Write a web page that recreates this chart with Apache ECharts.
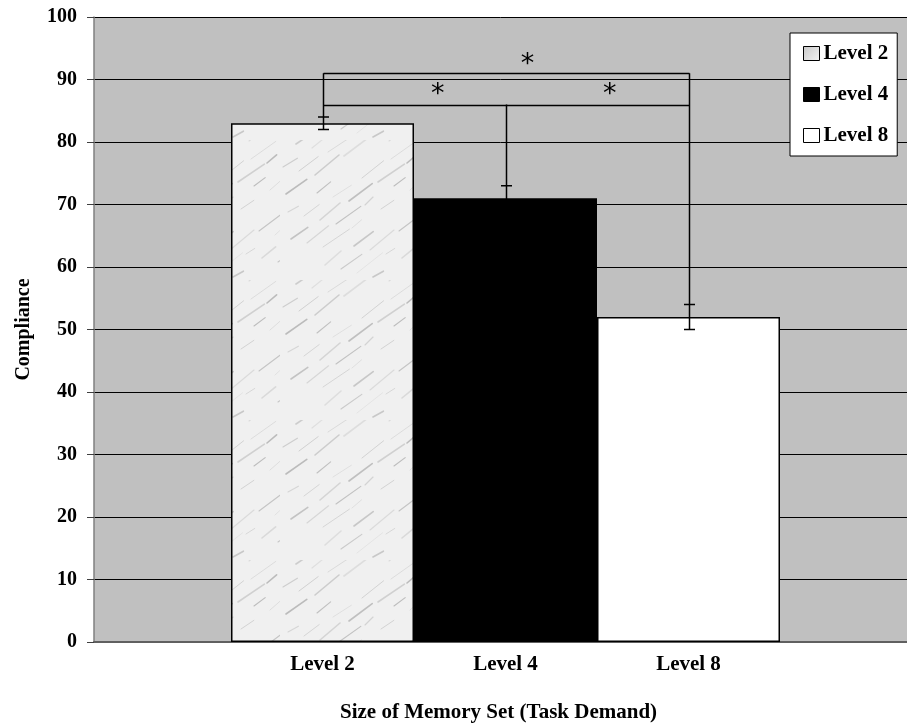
<!DOCTYPE html>
<html>
<head>
<meta charset="utf-8">
<style>html,body{margin:0;padding:0;background:#fff;}#chart{width:907px;height:726px;}</style>
<script src="https://cdn.jsdelivr.net/npm/echarts@6/dist/echarts.min.js"></script>
</head>
<body>
<div id="chart"></div>
<script>
// ---- data ----
const categories = ['Level 2', 'Level 4', 'Level 8'];
const means = [83, 71, 52];
const errors = [1, 2, 2];
// top of each vertical line above the error bar (leg of significance bracket)
const legTops = [91, 86, 91];
// significance brackets: [fromIndex, toIndex, level]
const brackets = [[0, 2, 91], [0, 2, 86]];
// asterisks: [category position, value]
const stars = [[0.63, 88.3], [1.57, 88.3], [1.12, 93.1]];
const yTicks = { min: 0, max: 100, interval: 10 };

const FONT = '"Liberation Serif", "Times New Roman", serif';

// marble-like texture for Level 2
function marble() {
  const c = document.createElement('canvas');
  c.width = 140; c.height = 140;
  const g = c.getContext('2d');
  g.fillStyle = '#f0f0f0';
  g.fillRect(0, 0, 140, 140);
  g.lineCap = 'round';
  for (let k = 0; k < 40; k++) {
    const x = (k * 37) % 140, y = (k * 53) % 140;
    const len = 10 + (k * 7) % 25;
    const shade = 140 + (k * 13) % 70;
    g.strokeStyle = 'rgba(' + shade + ',' + shade + ',' + shade + ',0.55)';
    g.lineWidth = 0.6 + (k % 3) * 0.5;
    g.beginPath();
    g.moveTo(x, y);
    g.lineTo(x + len * 0.8, y - len * 0.6 + ((k % 5) - 2));
    g.stroke();
  }
  return c;
}

const fills = [{ image: marble(), repeat: 'repeat' }, '#000000', '#ffffff'];
const legendFills = [
  new echarts.graphic.LinearGradient(0, 0, 1, 1, [{ offset: 0, color: '#c8c8c8' }, { offset: 1, color: '#f4f4f4' }]),
  '#000000', '#ffffff'
];

const chart = echarts.init(document.getElementById('chart'), null, { renderer: 'canvas' });

const barSeries = categories.map((name, i) => ({
  name: name,
  type: 'bar',
  xAxisIndex: 1,
  yAxisIndex: 1,
  barWidth: '100%',
  barGap: '-100%',
  z: 2,
  itemStyle: { color: fills[i], borderColor: '#000', borderWidth: 1.5 },
  data: categories.map((c, j) => (j === i ? means[i] : '-'))
}));

const option = {
  animation: false,
  backgroundColor: '#ffffff',
  grid: [
    { left: 94, right: 0, top: 17, bottom: 84, show: true, backgroundColor: '#c0c0c0', borderWidth: 0 },
    { left: 231, right: 127, top: 17, bottom: 84 }
  ],
  xAxis: [
    { gridIndex: 0, type: 'value', min: 0, max: 1,
      axisLine: { show: true, lineStyle: { color: '#606060', width: 2 } },
      axisTick: { show: false }, axisLabel: { show: false }, splitLine: { show: false } },
    { gridIndex: 1, type: 'category', data: categories,
      axisLine: { show: false }, axisTick: { show: false },
      axisLabel: { margin: 12, color: '#000', fontFamily: FONT, fontWeight: 'bold', fontSize: 21 } }
  ],
  yAxis: [
    { gridIndex: 0, type: 'value', min: yTicks.min, max: yTicks.max, interval: yTicks.interval,
      name: 'Compliance', nameLocation: 'middle', nameGap: 60, nameRotate: 90,
      nameTextStyle: { color: '#000', fontFamily: FONT, fontWeight: 'bold', fontSize: 20 },
      axisLine: { show: true, lineStyle: { color: '#808080', width: 1.5 } },
      axisTick: { show: true, length: 7, lineStyle: { color: '#404040' } },
      axisLabel: { margin: 17, color: '#000', fontFamily: FONT, fontWeight: 'bold', fontSize: 20 },
      splitLine: { show: true, lineStyle: { color: '#000', width: 1 } } },
    { gridIndex: 1, type: 'value', min: yTicks.min, max: yTicks.max, interval: yTicks.interval, show: false,
      splitLine: { show: false } }
  ],
  legend: {
    orient: 'vertical', left: 790, top: 33,
    backgroundColor: '#fff', borderColor: '#000', borderWidth: 1,
    padding: [10, 9, 10, 13], itemGap: 20, itemWidth: 16, itemHeight: 14,
    textStyle: { color: '#000', fontFamily: FONT, fontWeight: 'bold', fontSize: 21, lineHeight: 21, padding: [0, 0, 0, -1] },
    data: categories.map((n, i) => ({ name: n, icon: 'rect',
      itemStyle: { color: legendFills[i], borderColor: '#000', borderWidth: 1 } }))
  },
  graphic: [
    { type: 'text', left: 340, top: 702, style: { text: 'Size of Memory Set (Task Demand)',
      fill: '#000', font: 'bold 21px ' + FONT } }
  ],
  series: barSeries.concat([
    {
      type: 'custom', xAxisIndex: 1, yAxisIndex: 1, z: 5,
      data: means.map((m, i) => [i, m, errors[i], legTops[i]]),
      renderItem: function (params, api) {
        const i = api.value(0), m = api.value(1), e = api.value(2), top = api.value(3);
        const pTop = api.coord([i, m + e]);
        const pBot = api.coord([i, m - e]);
        const pLeg = api.coord([i, top]);
        const x = Math.round(pTop[0]) + 0.5;
        const cw = 5.5;
        const st = { stroke: '#000', lineWidth: 1.5 };
        return { type: 'group', children: [
          { type: 'line', shape: { x1: x, y1: pBot[1], x2: x, y2: pLeg[1] }, style: st },
          { type: 'line', shape: { x1: x - cw, y1: pTop[1], x2: x + cw, y2: pTop[1] }, style: st },
          { type: 'line', shape: { x1: x - cw, y1: pBot[1], x2: x + cw, y2: pBot[1] }, style: st }
        ] };
      }
    },
    {
      type: 'custom', xAxisIndex: 1, yAxisIndex: 1, z: 5,
      data: brackets,
      renderItem: function (params, api) {
        const a = api.coord([api.value(0), api.value(2)]);
        const b = api.coord([api.value(1), api.value(2)]);
        const y = Math.round(a[1]) + 0.5;
        return { type: 'line', shape: { x1: Math.round(a[0]) + 0.5, y1: y, x2: Math.round(b[0]) + 0.5, y2: y },
          style: { stroke: '#000', lineWidth: 1.5 } };
      }
    },
    {
      type: 'custom', xAxisIndex: 1, yAxisIndex: 1, z: 6,
      data: stars,
      renderItem: function (params, api) {
        const p0 = api.coord([0, api.value(1)]);
        const w = api.size([1, 0])[0];
        const x = p0[0] + api.value(0) * w;
        return { type: 'text', x: x, y: p0[1] + 5,
          style: { text: '*', fill: '#000', font: '27px "DejaVu Sans", sans-serif', align: 'center', verticalAlign: 'middle' } };
      }
    }
  ])
};
chart.setOption(option);
</script>
</body>
</html>
